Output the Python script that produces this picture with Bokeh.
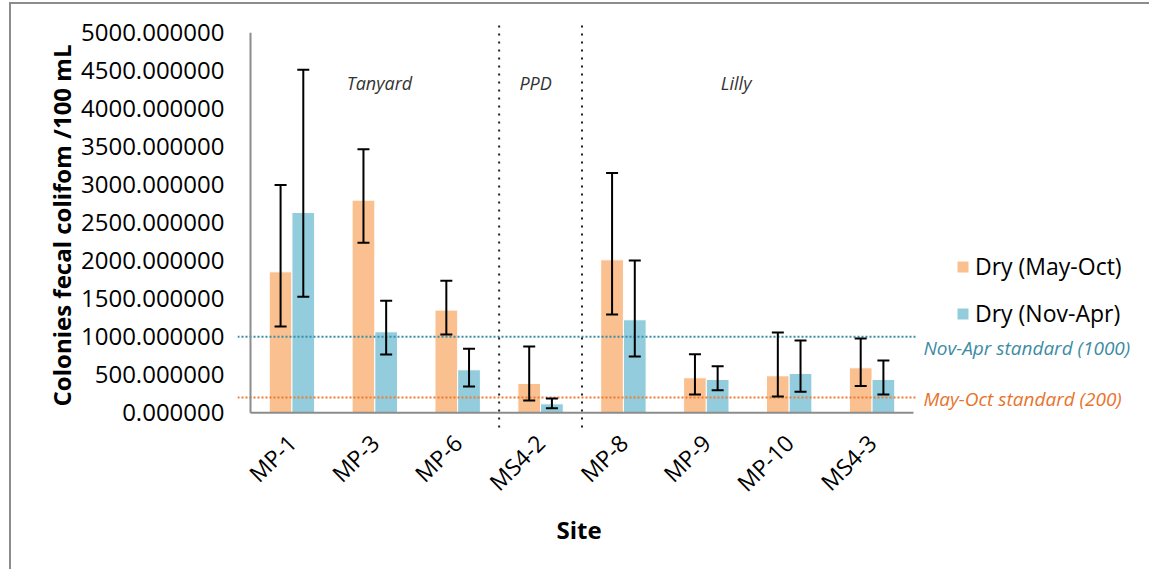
import math
from bokeh.plotting import figure
from bokeh.models import (ColumnDataSource, FixedTicker, PrintfTickFormatter, Range1d,
                          Whisker, TeeHead, Legend, LegendItem, Title)
from bokeh.core.properties import value
from bokeh.embed import file_html
from bokeh.resources import INLINE

# ---------------- data ----------------
sites = ["MP-1", "MP-3", "MP-6", "MS4-2", "MP-8", "MP-9", "MP-10", "MS4-3"]
dry_may_oct = [1855, 2798, 1351, 386, 2013, 461, 487, 592]
dry_may_oct_upper = [2996, 3469, 1737, 873, 3154, 772, 1057, 978]
dry_may_oct_lower = [1136, 2237, 1031, 162, 1294, 241, 215, 351]
dry_nov_apr = [2636, 1066, 566, 118, 1224, 439, 518, 439]
dry_nov_apr_upper = [4513, 1474, 842, 189, 2004, 614, 952, 689]
dry_nov_apr_lower = [1526, 767, 346, 61, 741, 298, 276, 241]
groups = ["Tanyard", "PPD", "Lilly"]
standards = [1000, 200]
standard_labels = ["Nov-Apr standard (1000)", "May-Oct standard (200)"]
y_ticks = [0, 500, 1000, 1500, 2000, 2500, 3000, 3500, 4000, 4500, 5000]
series_names = ["Dry (May-Oct)", "Dry (Nov-Apr)"]

# ---------------- style ----------------
FONT = "Open Sans"
C_ORANGE = "#FAC090"
C_BLUE = "#93CDDD"
C_STD_BLUE = "#3A8CA6"
C_STD_ORANGE = "#EC7A30"
TXT_STD_BLUE = "#3C8CA3"
TXT_STD_ORANGE = "#E8732C"
AXIS_GRAY = "#8C8C8C"

n = len(sites)
xc = list(range(n))
off = 0.137
bw = 0.274

p = figure(width=1140, height=567, output_backend="svg", toolbar_location=None,
           x_range=Range1d(-0.6569, 10.372), y_range=Range1d(-232.9, 5161.8),
           min_border_left=226, min_border_top=16, min_border_right=0, min_border_bottom=141)
p.styles = {"margin-left": "9px", "margin-top": "2px",
            "border-left": "2px solid #8C8C8C", "border-top": "2px solid #8C8C8C"}
p.outline_line_color = None
p.grid.visible = False
p.background_fill_color = "white"
p.border_fill_color = "white"

# axes
p.yaxis.ticker = FixedTicker(ticks=y_ticks)
p.yaxis.formatter = PrintfTickFormatter(format="%.6f")
p.yaxis.axis_line_color = None
p.yaxis.major_tick_line_color = None
p.yaxis.minor_tick_line_color = None
p.yaxis.major_tick_out = 0
p.yaxis.major_label_standoff = 13
p.yaxis.major_label_text_font = FONT
p.yaxis.major_label_text_font_size = "24px"
p.yaxis.major_label_text_color = "#000000"
p.yaxis.axis_label = "Colonies fecal colifom /100 mL"
p.yaxis.axis_label_text_font = FONT
p.yaxis.axis_label_text_font_size = "24px"
p.yaxis.axis_label_text_font_style = "bold"
p.yaxis.axis_label_text_color = "#000000"
p.yaxis.axis_label_standoff = 0

p.xaxis.ticker = FixedTicker(ticks=xc)
p.xaxis.major_label_overrides = {i: s for i, s in enumerate(sites)}
p.xaxis.axis_line_color = None
p.xaxis.major_tick_line_color = None
p.xaxis.minor_tick_line_color = None
p.xaxis.major_tick_out = 0
p.xaxis.major_label_standoff = 8
p.xaxis.major_label_orientation = math.pi / 4
p.xaxis.major_label_text_font = FONT
p.xaxis.major_label_text_font_size = "23px"
p.xaxis.major_label_text_color = "#000000"

site_title = Title(text="Site", align="left", offset=319, standoff=0, vertical_align="top",
                   text_font=FONT, text_font_size="24px", text_font_style="bold",
                   text_color="#000000")
p.add_layout(site_title, "below")

src = ColumnDataSource(dict(
    x1=[x - off for x in xc], x2=[x + off for x in xc],
    a=dry_may_oct, au=dry_may_oct_upper, al=dry_may_oct_lower,
    b=dry_nov_apr, bu=dry_nov_apr_upper, bl=dry_nov_apr_lower,
))

r1 = p.vbar(x="x1", top="a", bottom=0, width=bw, source=src, fill_color=C_ORANGE,
            line_color="white", line_width=1)
r2 = p.vbar(x="x2", top="b", bottom=0, width=bw, source=src, fill_color=C_BLUE,
            line_color="white", line_width=1)

# standard lines (dotted)
p.segment(x0=[-0.6569, -0.6569], y0=standards, x1=[7.524, 7.524], y1=standards,
          line_color=[C_STD_BLUE, C_STD_ORANGE], line_width=2, line_dash="2 2")

# axis lines drawn in data space
p.segment(x0=[-0.5, -0.5], y0=[0, 0], x1=[7.5, -0.5], y1=[0, 5000],
          line_color=AXIS_GRAY, line_width=2)

# group separators
p.segment(x0=[2.5, 3.5], y0=[-193, -193], x1=[2.5, 3.5], y1=[5135, 5135],
          line_color="#222222", line_width=2, line_dash="2 6")

for up, lo, xs in (("au", "al", "x1"), ("bu", "bl", "x2")):
    w = Whisker(base=xs, upper=up, lower=lo, source=src, line_color="black", line_width=2,
                upper_head=TeeHead(size=12, line_width=2, line_color="black"),
                lower_head=TeeHead(size=12, line_width=2, line_color="black"),
                level="overlay")
    p.add_layout(w)

# group labels
p.text(x=[1.056, 2.94, 5.36], y=[4342, 4342, 4342], text=groups,
       text_font=value(FONT), text_font_style="italic", text_font_size="18px",
       text_color="#333333", text_align="center", text_baseline="middle")

# standard labels
p.text(x=[7.62, 7.62], y=[859, 188], text=standard_labels,
       text_font=value(FONT), text_font_style="italic", text_font_size="19px",
       text_color=[TXT_STD_BLUE, TXT_STD_ORANGE], text_align="left", text_baseline="middle")

legend = Legend(items=[LegendItem(label=series_names[0], renderers=[r1]),
                       LegendItem(label=series_names[1], renderers=[r2])],
                location=(718, 101), border_line_color=None, background_fill_alpha=0,
                glyph_width=15, glyph_height=15, label_height=24, spacing=15,
                padding=0, margin=0, label_standoff=5,
                label_text_font=FONT, label_text_font_size="23px", label_text_color="#000000")
p.add_layout(legend)

open("out.html", "w").write(file_html(p, INLINE))
